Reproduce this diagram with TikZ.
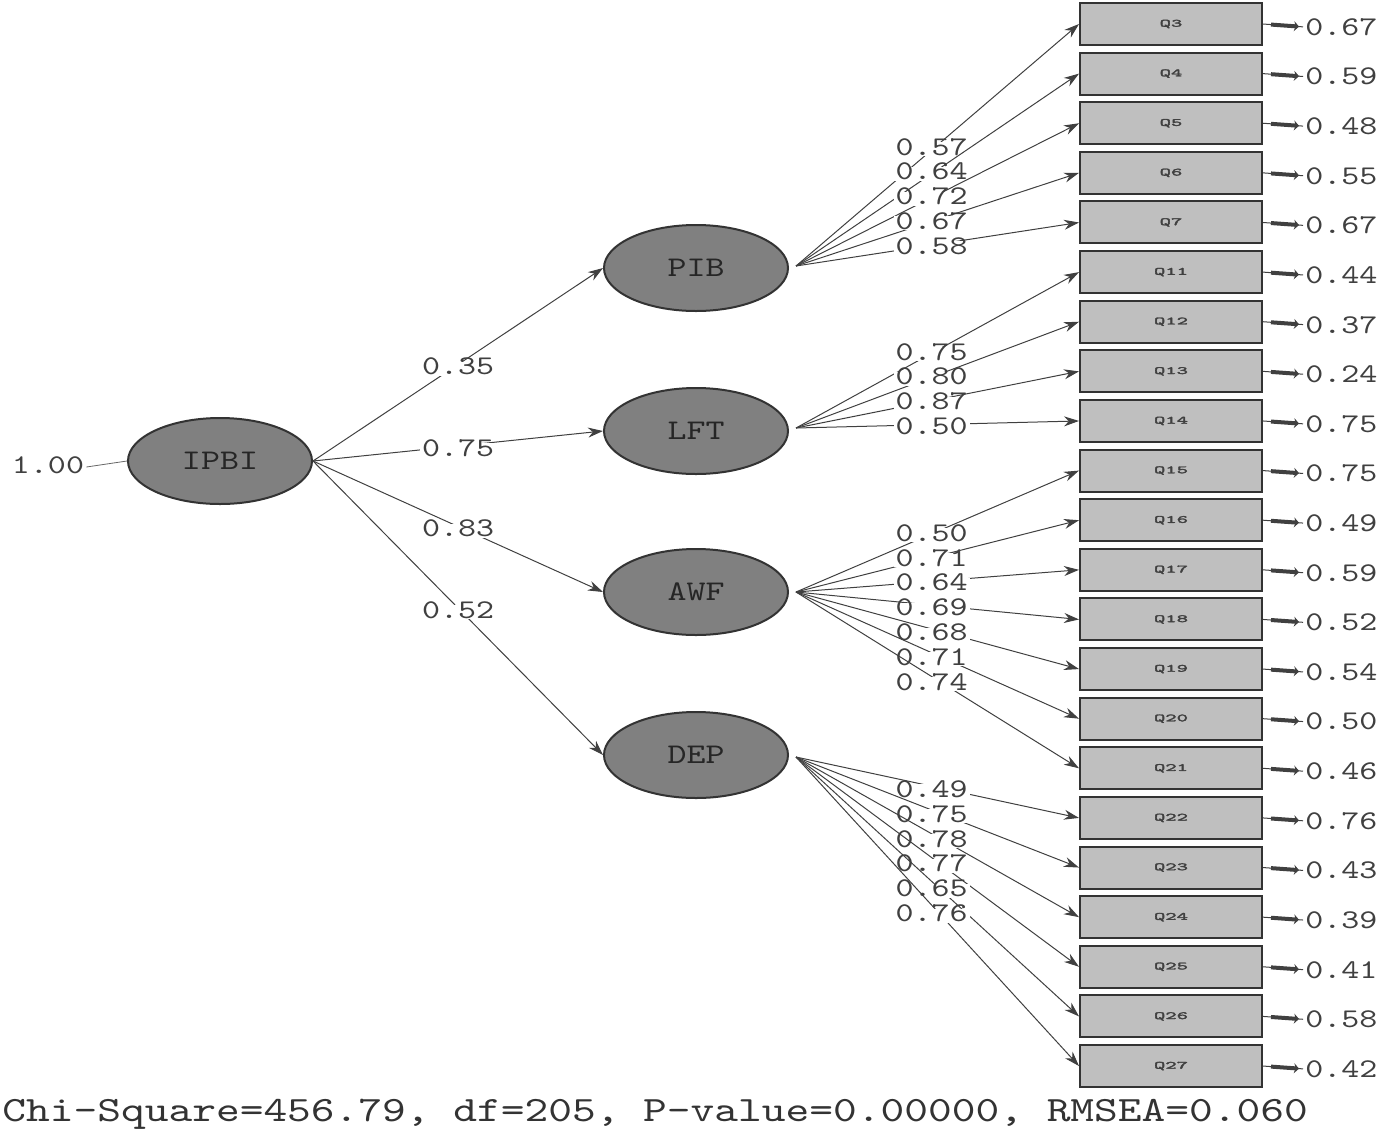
\documentclass[tikz,border=0pt]{standalone}
\usepackage{graphicx}
\usepackage{fontspec}
\newfontfamily\lisrel{lmmono10-regular.otf}[FakeStretch=1.27]
\newfontfamily\lisrelbold{lmmono10-regular.otf}[FakeStretch=1.27,FakeBold=2.5]
\usetikzlibrary{arrows.meta,shapes.geometric}

\newcommand{\itemlabel}[1]{\scalebox{1}[0.65]{#1}}

\tikzset{
  latent/.style={ellipse, draw=black!80, line width=1pt, fill=black!50, minimum width=92pt, minimum height=43pt, inner sep=0pt, text=black!85, font=\lisrel\fontsize{14.25}{14.25}\selectfont},
  item/.style={rectangle, draw=black!80, line width=1pt, fill=black!25, minimum width=91pt, minimum height=21pt, inner sep=0pt, text=black!75, font=\lisrelbold\fontsize{8.5}{8.5}\selectfont},
  coef/.style={fill=white, inner xsep=1pt, inner ysep=0.5pt, text height=0.6em, text depth=0pt, text=black!75, font=\lisrel\fontsize{13.5}{13.5}\selectfont},
  onpath/.style={coef, pos=0.5, yshift=-2pt},
  errval/.style={anchor=west, inner sep=0pt, text=black!75, font=\lisrel\fontsize{13.5}{13.5}\selectfont},
  path/.style={draw=black!75, line width=0.5pt, -{Stealth[length=7.5pt,width=5pt]}},
  errline/.style={draw=black!75, line width=0.5pt, shorten <=1pt},
  errbar/.style={draw=black!75, line width=2pt, {Stealth[length=2.5pt,width=5pt]}-, shorten <=3pt, shorten >=4pt}
}

\begin{document}
\begin{tikzpicture}[x=0.5pt,y=-0.5pt]
		%%%%% START %%%%%
		\useasboundingbox (0,0) rectangle (1381,1136);
		
		% indicators with error variances
		\foreach \q/\e [count=\i from 0] in {3/0.67, 4/0.59, 5/0.48, 6/0.55, 7/0.67, 11/0.44, 12/0.37, 13/0.24, 14/0.75, 15/0.75, 16/0.49, 17/0.59, 18/0.52, 19/0.54, 20/0.50, 21/0.46, 22/0.76, 23/0.43, 24/0.39, 25/0.41, 26/0.58, 27/0.42}{
			\node[item] (q\q) at (1171, {24+49.62*\i}) {\itemlabel{Q\q}};
			\node[errval] (e\q) at (1305, {27+49.62*\i}) {\e};
			\draw[errline] (e\q.west) -- (q\q.east);
			\draw[errbar] (e\q.west) -- (q\q.east);
		}
		
		% factors
		\node[latent] (ipbi) at (220, 461) {IPBI};
		\node[latent] (pib) at (696, 268) {PIB};
		\node[latent] (lft) at (696, 431) {LFT};
		\node[latent] (awf) at (696, 592) {AWF};
		\node[latent] (dep) at (696, 755) {DEP};
		
		\coordinate (pibR) at ([xshift=3.5pt,yshift=1pt]pib.east);
		\coordinate (lftR) at ([xshift=3.5pt,yshift=1.5pt]lft.east);
		\coordinate (awfR) at ([xshift=3.5pt]awf.east);
		\coordinate (depR) at ([xshift=3.5pt,yshift=-1pt]dep.east);
		
		% second order
		\node[coef] (var) at (48, 467) {1.00};
		\draw[black!60, line width=0.4pt] (var.east) -- (ipbi.west);
		\draw[path] (ipbi.east) -- node[onpath] {0.35} (pib.west);
		\draw[path] (ipbi.east) -- node[onpath] {0.75} (lft.west);
		\draw[path] (ipbi.east) -- node[onpath] {0.83} (awf.west);
		\draw[path] (ipbi.east) -- node[onpath] {0.52} (dep.west);
		
		% loadings
		\foreach \q/\l in {3/0.57, 4/0.64, 5/0.72, 6/0.67, 7/0.58}
			\draw[path] (pibR) -- node[onpath, xshift=-3pt] {\l} (q\q.west);
		\foreach \q/\l in {11/0.75, 12/0.80, 13/0.87, 14/0.50}
			\draw[path] (lftR) -- node[onpath, xshift=-3pt] {\l} (q\q.west);
		\foreach \q/\l in {15/0.50, 16/0.71, 17/0.64, 18/0.69, 19/0.68, 20/0.71, 21/0.74}
			\draw[path] (awfR) -- node[onpath, xshift=-3pt] {\l} (q\q.west);
		\foreach \q/\l in {22/0.49, 23/0.75, 24/0.78, 25/0.77, 26/0.65, 27/0.76}
			\draw[path] (depR) -- node[onpath, xshift=-3pt] {\l} (q\q.west);
		
		% fit
		\node[anchor=west, inner sep=0pt, text=black!80, font=\lisrel\fontsize{17.8}{17.8}\selectfont] (fit) at (2, 1114) {Chi-Square=456.79, df=205, P-value=0.00000, RMSEA=0.060};
		
		%%%%% END %%%%%
	\end{tikzpicture}
\end{document}
